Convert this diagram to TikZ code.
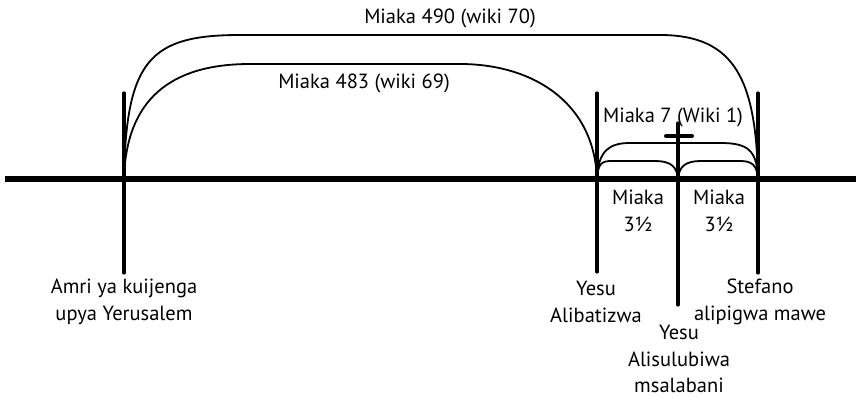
\documentclass[tikz,border=0pt]{standalone}
\usepackage{fontspec}
\setmainfont{PT Sans}
\usepackage{tikz}

\begin{document}
\begin{tikzpicture}[x=1pt,y=-1pt,
                    line cap=round,
                    axis/.style={line width=6pt,line cap=butt},
                    tick/.style={line width=3.2pt},
                    span/.style={line width=1.8pt},
                    lbl/.style={font=\fontsize{20.5}{26.5}\selectfont,align=center,inner sep=0pt}]
    \useasboundingbox (0,0) rectangle (856,398);
    % time line
    \coordinate (w) at (5,179);
    \coordinate (e) at (856,179);
    \draw[axis] (w) -- (e);
    % events
    \coordinate (a) at (124,179);
    \coordinate (b) at (597,179);
    \coordinate (c) at (678,179);
    \coordinate (s) at (758,179);
    \coordinate (at) at (124,93);   \coordinate (ab) at (124,273);
    \coordinate (bt) at (597,93);   \coordinate (bb) at (597,272);
    \coordinate (ct) at (678,123);  \coordinate (cb) at (678,305);
    \coordinate (st) at (758,93);   \coordinate (sb) at (758,273);
    \coordinate (xl) at (666,136);  \coordinate (xr) at (692,136);
    \draw[tick] (at) -- (ab);
    \draw[tick] (bt) -- (bb);
    \draw[tick] (ct) -- (cb);
    \draw[tick] (st) -- (sb);
    \draw[line width=4pt] (xl) -- (xr);
    % spans
    \draw[span] (a) .. controls (126,60) and (150,35) .. (240,35) -- (660,35)
        .. controls (735,35) and (756,80) .. (s);
    \draw[span] (a) .. controls (126,100) and (170,64) .. (250,64) -- (460,64)
        .. controls (530,64) and (594,100) .. (b);
    \draw[span] (b) .. controls (598,150) and (610,143) .. (630,143) -- (720,143)
        .. controls (748,143) and (757,150) .. (s);
    \draw[span] (b) .. controls (598,163) and (602,161) .. (612,161) -- (655,161)
        .. controls (670,161) and (677,166) .. (c);
    \draw[span] (c) .. controls (679,166) and (686,161) .. (701,161) -- (740,161)
        .. controls (752,161) and (757,165) .. (s);
    % labels
    \node[lbl] (m490) at (450,18) {Miaka 490 (wiki 70)};
    \node[lbl] (m483) at (364,83) {Miaka 483 (wiki 69)};
    \node[lbl] (m7) at (673,117) {Miaka 7 (Wiki 1)};
    \node[lbl] (h1) at (638,211) {Miaka\\3½};
    \node[lbl] (h2) at (719,211) {Miaka\\3½};
    \node[lbl] (amri) at (124,302) {Amri ya kuijenga\\upya Yerusalem};
    \node[lbl] (batiz) at (596,302) {Yesu\\Alibatizwa};
    \node[lbl] (stef) at (760,302) {Stefano\\alipigwa mawe};
    \node[lbl] (sulub) at (679,359) {Yesu\\Alisulubiwa\\msalabani};
\end{tikzpicture}
\end{document}
